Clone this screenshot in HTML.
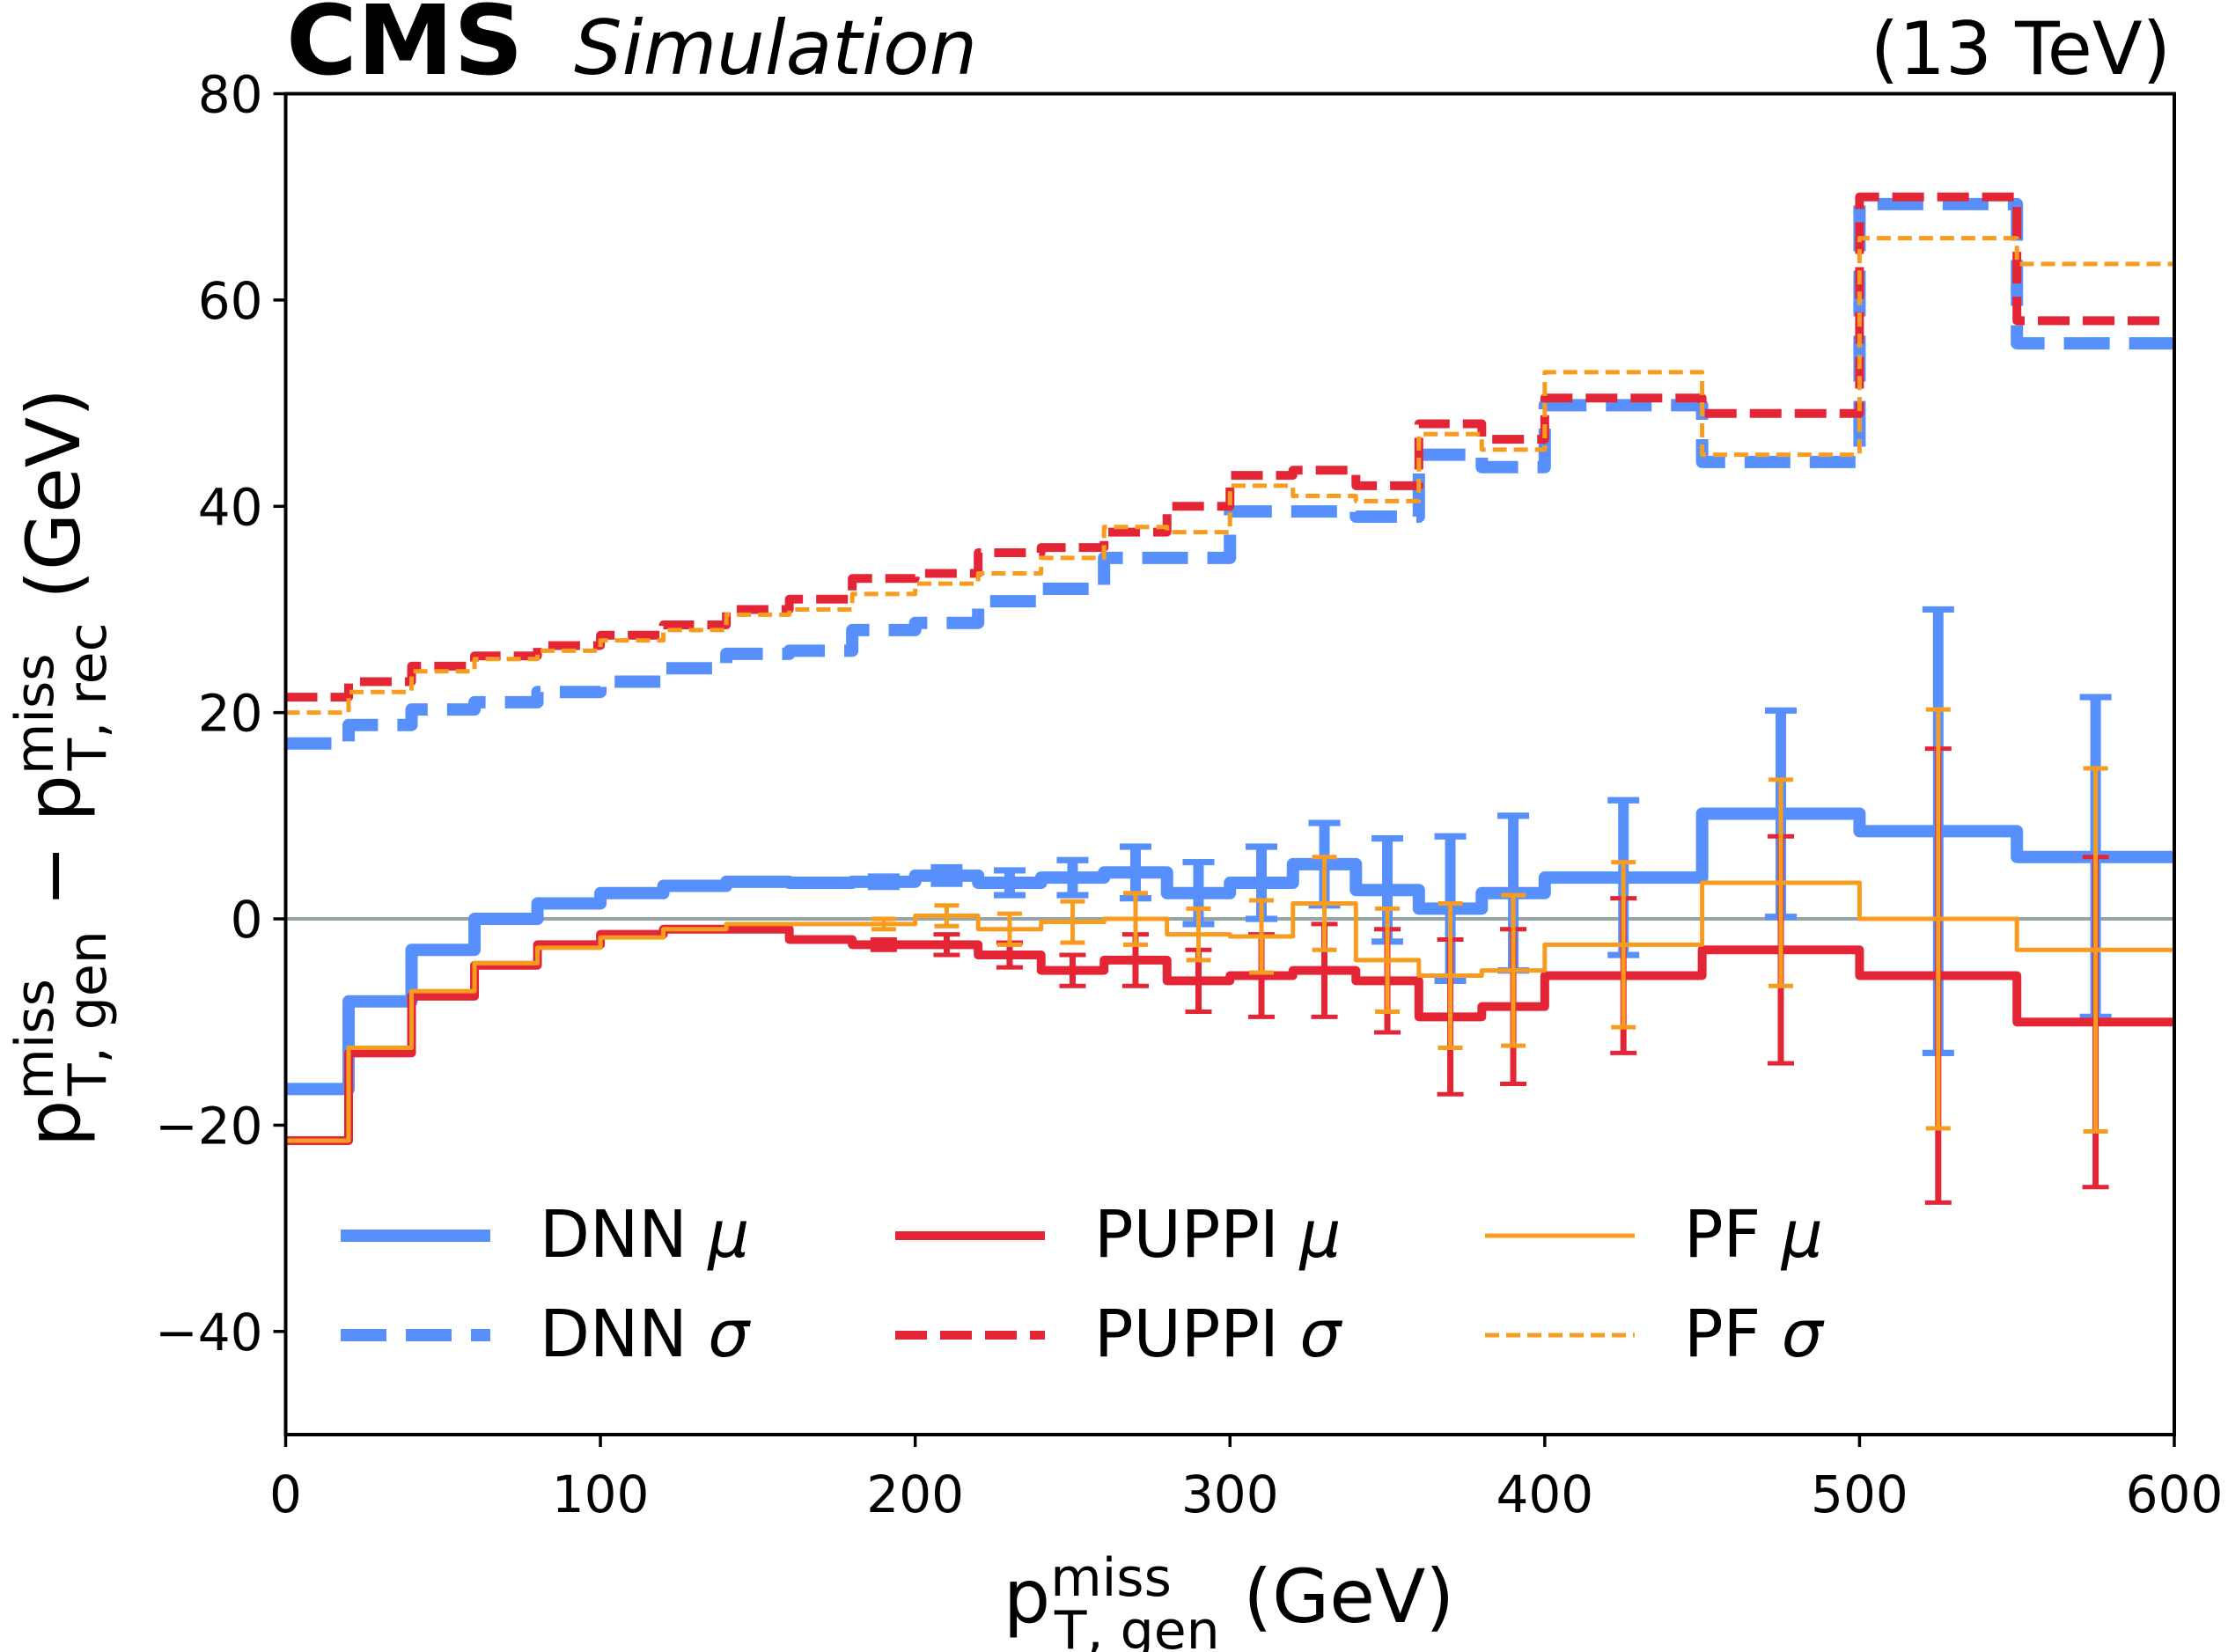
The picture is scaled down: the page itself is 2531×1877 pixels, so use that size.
<!DOCTYPE html>
<html><head><meta charset="utf-8"><style>
html,body{margin:0;padding:0;background:#fff;}
svg{display:block;font-family:"DejaVu Sans","Liberation Sans",sans-serif;}
</style></head><body>
<svg id="chart" width="2531" height="1877" viewBox="0 0 2531 1877" xmlns="http://www.w3.org/2000/svg">
<rect width="2531" height="1877" fill="#fff"/>
<g id="marks"></g>
<rect x="324.5" y="106.5" width="2145.5" height="1523.5" fill="none" stroke="#000" stroke-width="4"/>
<g id="axes"></g>
<text x="325" y="84" font-size="110" font-weight="bold">CMS</text>
<text x="652" y="84" font-size="86" font-style="italic">Simulation</text>
<text x="2466" y="84" font-size="83" text-anchor="end">(13 TeV)</text>
<text x="1396" y="1843" font-size="84" text-anchor="middle">p<tspan font-size="60" dy="-30">miss</tspan><tspan font-size="60" dx="-133" dy="60">T, gen</tspan><tspan dy="-30"> (GeV)</tspan></text>
<text transform="translate(90,872) rotate(-90)" font-size="84" text-anchor="middle">p<tspan font-size="60" dy="-30">miss</tspan><tspan font-size="60" dx="-133" dy="60">T, gen</tspan><tspan dy="-30"> − p</tspan><tspan font-size="60" dy="-30">miss</tspan><tspan font-size="60" dx="-133" dy="60">T, rec</tspan><tspan dy="-30"> (GeV)</tspan></text>
<g id="legend"></g>
</svg>
<script>
const binEdges=[0,20,40,60,80,100,120,140,160,180,200,220,240,260,280,300,320,340,360,380,400,450,500,550,600];
const dnnMu=[-16.5,-8,-3,0,1.5,2.5,3.2,3.6,3.5,3.6,4.2,3.5,4,4.5,2.5,3.5,5.3,2.8,1,2.5,4,10.2,8.5,6];
const dnnErr=[0,0,0,0,0,0,0,0,0,0.5,0.8,1.2,1.7,2.5,3,3.5,4,5,7,7.5,7.5,10,21.5,15.5];
const puppiMu=[-21.5,-13,-7.5,-4.5,-2.5,-1.5,-1,-1,-2,-2.5,-2.5,-3.5,-5,-4,-6,-5.5,-5,-6,-9.5,-8.5,-5.5,-3,-5.5,-10];
const puppiErr=[0,0,0,0,0,0,0,0,0,0.5,1,1.2,1.5,2.5,3,4,4.5,5,7.5,7.5,7.5,11,22,16];
const pfMu=[-21.5,-12.5,-7,-4.3,-2.8,-1.8,-1,-0.5,-0.5,-0.5,0.3,-1,-0.3,0,-1.5,-1.7,1.5,-4,-5.5,-5,-2.5,3.5,0,-3];
const pfErr=[0,0,0,0,0,0,0,0,0,0.5,1,1.5,2,2.5,2.5,3.5,4.5,5,7,7.3,8,10,20.3,17.6];
const dnnSigma=[17,18.8,20.3,21,22,23,24.3,25.7,26,28,28.7,30.8,32,35,35,39.5,39.5,39,45,43.8,49.8,44.3,69.3,55.8];
const puppiSigma=[21.5,23,24.5,25.5,26.5,27.5,28.5,30,31,33,33.5,35.5,36,37.5,40,43,43.5,42,48,46.5,50.5,49,70,58];
const pfSigma=[20,22,24,25.2,26,27,28,29.5,30,31.5,32.5,33.5,35,38,37.5,42,41,40.5,47,45.5,53,45,66,63.5];
const xTicks=[0,100,200,300,400,500,600];
const yTicks=[-40,-20,0,20,40,60,80];
const yTickLabels=["−40","−20","0","20","40","60","80"];

const X0=324.5,X1=2470,Y0=1630,Y1=106.5,xmin=0,xmax=600,ymin=-50,ymax=80;
const sx=v=>X0+(v-xmin)/(xmax-xmin)*(X1-X0);
const sy=v=>Y0-(v-ymin)/(ymax-ymin)*(Y0-Y1);
const NS="http://www.w3.org/2000/svg";
const marks=document.getElementById('marks'),axes=document.getElementById('axes'),legend=document.getElementById('legend');
function mk(tag,attrs,parent){const e=document.createElementNS(NS,tag);for(const k in attrs)e.setAttribute(k,attrs[k]);parent.appendChild(e);return e;}

const zl=mk('line',{x1:X0,x2:X1,y1:sy(0),y2:sy(0),stroke:'#95a5a6','stroke-width':4},marks);



function stepPath(vals){let d='';for(let i=0;i<vals.length;i++){const a=sx(binEdges[i]),b=sx(binEdges[i+1]),y=sy(vals[i]);d+=(i==0?'M':'L')+a+','+y+'L'+b+','+y;}return d;}
const BLUE='#5790fc',RED='#e42536',ORANGE='#f89c20';
const series=[
 {name:'dnn-sigma',vals:dnnSigma,c:BLUE,w:14,dash:'52,22'},
 {name:'puppi-sigma',vals:puppiSigma,c:RED,w:10,dash:'36,15'},
 {name:'pf-sigma',vals:pfSigma,c:ORANGE,w:5,dash:'16,8'},
 {name:'dnn-mu',vals:dnnMu,c:BLUE,w:14,err:dnnErr,cap:36,ew:12},
 {name:'puppi-mu',vals:puppiMu,c:RED,w:10,err:puppiErr,cap:30,ew:7},
 {name:'pf-mu',vals:pfMu,c:ORANGE,w:5,err:pfErr,cap:28,ew:5},
];
series.forEach(s=>{
 const p=mk('path',{d:stepPath(s.vals),fill:'none',stroke:s.c,'stroke-width':s.w,'stroke-linejoin':'round'},marks);
 if(s.dash)p.setAttribute('stroke-dasharray',s.dash);
 
 
 if(s.err){
  for(let i=0;i<s.vals.length;i++){
   if(!s.err[i])continue;
   const xc=sx((binEdges[i]+binEdges[i+1])/2),yt=sy(s.vals[i]+s.err[i]),yb=sy(s.vals[i]-s.err[i]);
   const g=mk('g',{stroke:s.c,'stroke-width':s.ew},marks);
   
   
   mk('line',{x1:xc,x2:xc,y1:yt,y2:yb},g);
   mk('line',{x1:xc-s.cap/2,x2:xc+s.cap/2,y1:yt,y2:yt,'stroke-width':Math.max(5,s.ew*0.6)},g);
   mk('line',{x1:xc-s.cap/2,x2:xc+s.cap/2,y1:yb,y2:yb,'stroke-width':Math.max(5,s.ew*0.6)},g);
  }
 }
});

xTicks.forEach(t=>{
 const l=mk('line',{x1:sx(t),x2:sx(t),y1:Y0,y2:Y0+14,stroke:'#000','stroke-width':3.5},axes);
 
 
 const tx=mk('text',{x:sx(t),y:Y0+88,'font-size':58,'text-anchor':'middle'},axes);
 tx.textContent=t;
 
 
});
yTicks.forEach((t,i)=>{
 const l=mk('line',{x1:X0-14,x2:X0,y1:sy(t),y2:sy(t),stroke:'#000','stroke-width':3.5},axes);
 
 
 const tx=mk('text',{x:X0-26,y:sy(t)+21,'font-size':58,'text-anchor':'end'},axes);
 tx.textContent=yTickLabels[i];
 
 
});

const legItems=[
 {l:'DNN ',g:'μ',c:BLUE,w:14,dash:null,x:387,y:1404},
 {l:'DNN ',g:'σ',c:BLUE,w:14,dash:'52,22',x:387,y:1517},
 {l:'PUPPI ',g:'μ',c:RED,w:10,dash:null,x:1017,y:1404},
 {l:'PUPPI ',g:'σ',c:RED,w:10,dash:'36,15',x:1017,y:1517},
 {l:'PF ',g:'μ',c:ORANGE,w:5,dash:null,x:1687,y:1404},
 {l:'PF ',g:'σ',c:ORANGE,w:5,dash:'16,8',x:1687,y:1517},
];
legItems.forEach(it=>{
 const g=mk('g',{},legend);
 
 
 const ln=mk('line',{x1:it.x,x2:it.x+170,y1:it.y,y2:it.y,stroke:it.c,'stroke-width':it.w},g);
 if(it.dash)ln.setAttribute('stroke-dasharray',it.dash);
 const t=mk('text',{x:it.x+226,y:it.y+24,'font-size':74},g);
 t.textContent=it.l;
 const ts=mk('tspan',{'font-style':'italic'},t);
 ts.textContent=it.g;
});
</script>
</body></html>
